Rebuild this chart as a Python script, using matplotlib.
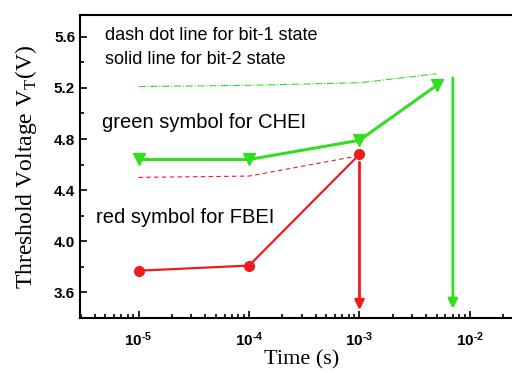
import numpy as np
import matplotlib.pyplot as plt

plt.rcParams['mathtext.fontset'] = 'custom'
plt.rcParams['mathtext.rm'] = 'Liberation Sans:bold'
plt.rcParams['mathtext.bf'] = 'Liberation Sans:bold'

# time points (s)
t = [1e-5, 1e-4, 1e-3, 5e-3]
t_red = [1e-5, 1e-4, 1e-3]

# CHEI (green)
chei_bit2 = [4.64, 4.64, 4.79, 5.22]
chei_bit1 = [5.21, 5.22, 5.24, 5.31]
# FBEI (red)
fbei_bit2 = [3.77, 3.81, 4.68]
fbei_bit1 = [4.50, 4.51, 4.67]

# arrows: (x, y start, y end)
red_arrow = (1e-3, 4.64, 3.44)
green_arrow = (7e-3, 5.30, 3.45)

xtick_vals = [1e-5, 1e-4, 1e-3, 1e-2]
xtick_labels = [r'$\mathbf{10^{\text{-}5}}$', r'$\mathbf{10^{\text{-}4}}$',
                r'$\mathbf{10^{\text{-}3}}$', r'$\mathbf{10^{\text{-}2}}$']

green = '#33dd22'
red = '#ee1c1c'

fig = plt.figure(figsize=(5.12, 3.73), dpi=100)
ax = fig.add_axes([80/512, 1 - 318/373, (523 - 80)/512, (318 - 15)/373])

ax.plot(t, chei_bit1, color=green, lw=0.8, ls='-.')
ax.plot(t_red, fbei_bit1, color=red, lw=0.8, ls='--', dashes=(4, 3))
ax.plot(t, chei_bit2, color=green, lw=2.2, marker='v', ms=8)
ax.plot(t_red, fbei_bit2, color=red, lw=1.6, marker='o', ms=7)

for (x, y0, y1), c in [(red_arrow, red), (green_arrow, green)]:
    ax.annotate('', xy=(x, y1), xytext=(x, y0),
                arrowprops=dict(arrowstyle='-|>', color=c, lw=2, mutation_scale=14))

ax.set_xscale('log')
ax.set_xlim(10**-5.53, 10**-1.52)
ax.set_ylim(3.4, 5.77)
ax.set_yticks([3.6, 4.0, 4.4, 4.8, 5.2, 5.6])
ax.set_yticks(np.arange(3.4, 5.8, 0.2), minor=True)
ax.set_xticks(xtick_vals)
ax.set_xticklabels(xtick_labels)
ax.tick_params(which='both', direction='in', width=1.2)
ax.tick_params(which='major', length=5, labelsize=11)
ax.tick_params(axis='x', which='major', labelsize=11, pad=9)
ax.tick_params(which='minor', length=3)
for lab in ax.get_yticklabels():
    lab.set_fontweight('bold')
    lab.set_family('Liberation Sans')
for s in ax.spines.values():
    s.set_linewidth(1.5)

ax.set_xlabel('Time (s)', family='Liberation Serif', fontsize=16, labelpad=1)
ax.set_ylabel(r'Threshold Voltage V$_{\mathregular{T}}$(V)', family='Liberation Serif',
              fontsize=17, labelpad=11)

def figtext(x, y, s, size):
    fig.text(x/512, 1 - y/373, s, va='center', ha='left', fontsize=size, family='Liberation Sans')

figtext(105, 36, 'dash dot line for bit-1 state', 13)
figtext(105, 59, 'solid line for bit-2 state', 13)
figtext(102, 123, 'green symbol for CHEI', 14.5)
figtext(96, 217, 'red symbol for FBEI', 14.5)

fig.savefig('out.png', dpi=100)
